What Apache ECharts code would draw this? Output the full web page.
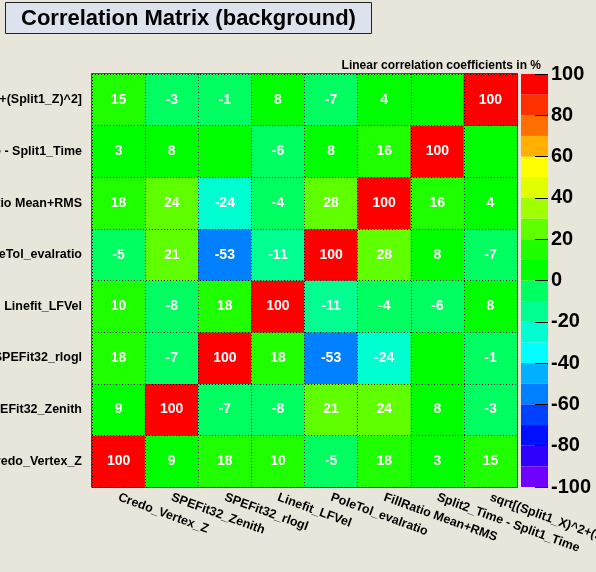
<!DOCTYPE html>
<html><head><meta charset="utf-8">
<script src="https://cdn.jsdelivr.net/npm/echarts@6/dist/echarts.min.js"></script>
<style>html,body{margin:0;background:#e8e6da}#c{width:596px;height:572px}</style>
</head><body><div id="c"></div>
<script>
const variables = ["Credo_Vertex_Z","SPEFit32_Zenith","SPEFit32_rlogl","Linefit_LFVel","PoleTol_evalratio","FillRatio Mean+RMS","Split2_Time - Split1_Time","sqrt[(Split1_X)^2+(Split1_Y)^2+(Split1_Z)^2]"];
// rows bottom to top
const matrix = [
 [100, 9, 18, 10, -5, 18, 3, 15],
 [9, 100, -7, -8, 21, 24, 8, -3],
 [18, -7, 100, 18, -53, -24, 0, -1],
 [10, -8, 18, 100, -11, -4, -6, 8],
 [-5, 21, -53, -11, 100, 28, 8, -7],
 [18, 24, -24, -4, 28, 100, 16, 4],
 [3, 8, 0, -6, 8, 16, 100, 0],
 [15, -3, -1, 8, -7, 4, 0, 100]
];
const paletteColors = ["#7000ff","#3000ff","#0010ff","#0040ff","#0080ff","#00b0ff","#00ffff","#00ffd0","#00ff90","#00ff60","#00ff00","#20ff00","#60ff00","#a0ff00","#e0ff00","#ffff00","#ffb000","#ff7000","#ff3000","#ff0000"];
const binEdges = paletteColors.map((c,i)=>-100+10*i); // lower edge of each colour bin
const scaleTicks = [-100,-80,-60,-40,-20,0,20,40,60,80,100];

const data = [];
matrix.forEach((row,y)=>row.forEach((v,x)=>data.push([x,y,v])));
const pieces = paletteColors.map((c,i)=>({gte:binEdges[i], lt:binEdges[i]+10+(i===19?0.001:0), color:c}));

// colour bar: stacked bars of bins, positive bins stack up from 0, negative stack down from 0
const barSeries = paletteColors.map((c,i)=>({
  type:'bar',xAxisIndex:1,yAxisIndex:1,stack:'bar',barWidth:'100%',silent:true,z:2,
  itemStyle:{color:c},data:[binEdges[i]>=0?10:-10]
}));
// negative bins must stack from 0 downward: order -10..0 first
const negOrdered = barSeries.slice(0,10).reverse();
const posOrdered = barSeries.slice(10);

const chart = echarts.init(document.getElementById('c'));
chart.setOption({
 backgroundColor:'#e8e6da',
 animation:false,
 title:[{text:'Correlation Matrix (background)',left:5,top:2,padding:[4,16,3,16],
   backgroundColor:'#dde3ec',borderColor:'#222',borderWidth:1,
   textStyle:{fontFamily:'Liberation Sans',fontWeight:'bold',fontSize:22,color:'#000',lineHeight:25}},
  {text:'Linear correlation coefficients in %',right:50,top:55,
   textStyle:{fontFamily:'Liberation Sans',fontWeight:'bold',fontSize:12,color:'#000'}}],
 grid:[{left:92,top:74,right:79,bottom:85,show:true,borderColor:'#000',borderWidth:1.5,outerBoundsMode:'none',containLabel:false},
       {left:521,top:74,width:27,bottom:85,show:false,outerBoundsMode:'none',containLabel:false}],
 xAxis:[{type:'category',data:variables,gridIndex:0,z:5,
   axisLine:{show:false},axisTick:{show:false},
   splitLine:{show:true,lineStyle:{color:'#000',type:[1,2],width:1}},
   axisLabel:{rotate:-20,interval:0,margin:10,fontFamily:'Liberation Sans',fontWeight:'bold',fontSize:12.5,color:'#000'}},
  {type:'category',data:['c'],gridIndex:1,show:false}],
 yAxis:[{type:'category',data:variables,gridIndex:0,z:5,
   axisLine:{show:false},axisTick:{show:false},
   splitLine:{show:true,lineStyle:{color:'#000',type:[1,2],width:1}},
   axisLabel:{interval:0,margin:10,fontFamily:'Liberation Sans',fontWeight:'bold',fontSize:12.5,color:'#000'}},
  {type:'value',gridIndex:1,min:-100,max:100,interval:20,position:'right',z:20,
   axisLine:{show:false},splitLine:{show:false},
   axisTick:{show:true,inside:true,length:13,lineStyle:{color:'#000'}},
   axisLabel:{margin:3,fontFamily:'Liberation Sans',fontWeight:'bold',fontSize:20,color:'#000',
     formatter:v=>scaleTicks.includes(v)?String(v):''}}],
 visualMap:{type:'piecewise',pieces:pieces,seriesIndex:0,show:false},
 series:[{type:'heatmap',data:data,xAxisIndex:0,yAxisIndex:0,z:2,
   label:{show:true,color:'#fff',fontFamily:'Liberation Sans',fontWeight:'bold',fontSize:14,
     formatter:p=>p.value[2]===0?'':String(p.value[2])}}
  ].concat(negOrdered, posOrdered)
});
</script></body></html>
